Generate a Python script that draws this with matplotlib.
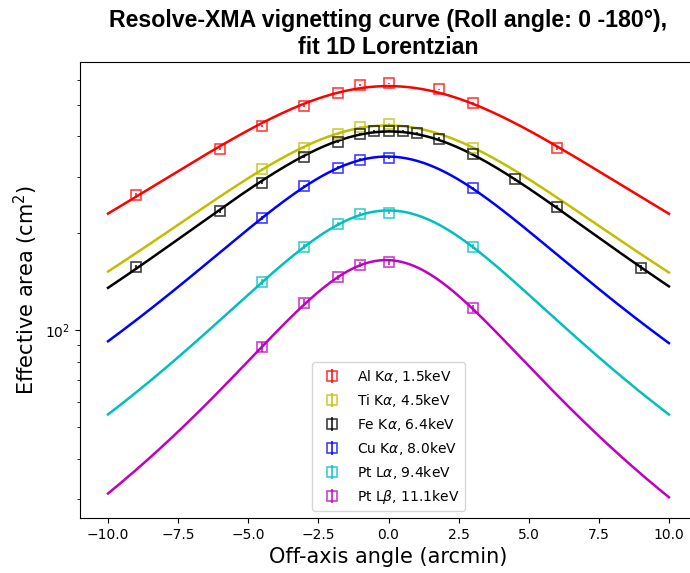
import numpy as np
import matplotlib
matplotlib.use("Agg")
import matplotlib.pyplot as plt

# off-axis angles (arcmin) of each scan
x_al = [-9, -6, -4.5, -3, -1.8, -1, 0, 1.8, 3, 6]
x_ti = [-4.5, -3, -1.8, -1, 0, 3]
x_fe = [-9, -6, -4.5, -3, -1.8, -1, -0.5, 0, 0.5, 1, 1.8, 3, 4.5, 6, 9]
x_cu = [-4.5, -3, -1.8, -1, 0, 3]
x_pla = [-4.5, -3, -1.8, -1, 0, 3]
x_plb = [-4.5, -3, -1.8, -1, 0, 3]

# effective area (cm^2)
y_al = [264, 365, 430, 498, 547, 577, 584, 560, 509, 367]
y_ti = [317, 369, 406, 427, 436, 369]
y_fe = [157, 234, 287, 346, 385, 406, 415, 416, 415, 411, 394, 352, 294, 242, 156]
y_cu = [223, 280, 320, 339, 343, 276]
y_pla = [141, 182, 214, 230, 232, 182]
y_plb = [88.7, 122, 146, 160, 163, 117]

yerr = 3.0

labels = [r"Al K$\alpha$, 1.5keV", r"Ti K$\alpha$, 4.5keV", r"Fe K$\alpha$, 6.4keV",
          r"Cu K$\alpha$, 8.0keV", r"Pt L$\alpha$, 9.4keV", r"Pt L$\beta$, 11.1keV"]
colors = ["r", "y", "k", "b", "c", "m"]


def lorentz_fit(x, y):
    # 1/y of a Lorentzian is a parabola in x
    c = np.polyfit(np.array(x, float), 1.0 / np.array(y, float), 2)
    return lambda t: 1.0 / np.polyval(c, t)


def main():
    fig = plt.figure(figsize=(6.9, 5.73), dpi=100)
    ax = fig.add_axes([80 / 690, 55 / 573, 617 / 690, 456 / 573])

    xs = np.linspace(-10, 10, 300)
    data = [(x_al, y_al), (x_ti, y_ti), (x_fe, y_fe),
            (x_cu, y_cu), (x_pla, y_pla), (x_plb, y_plb)]
    for (x, y), col, lab in zip(data, colors, labels):
        ax.errorbar(x, y, yerr=yerr, fmt="s", color=col, mfc="none",
                    ms=7, mew=1.2, alpha=0.75, label=lab)
        f = lorentz_fit(x, y)
        ax.plot(xs, f(xs), color=col, lw=1.8)

    ax.set_yscale("log")
    ax.set_xticks(np.arange(-10, 10.1, 2.5))
    ax.set_xlabel("Off-axis angle (arcmin)", fontsize=15)
    ax.set_ylabel("Effective area (cm$^2$)", fontsize=15)
    ax.set_title("Resolve-XMA vignetting curve (Roll angle: 0 -180°),\nfit 1D Lorentzian",
                 fontsize=16.7, fontweight="bold", family="Liberation Sans")
    ax.legend(loc="lower center", fontsize=10)
    fig.savefig("out.png", dpi=100)


if __name__ == "__main__":
    main()
